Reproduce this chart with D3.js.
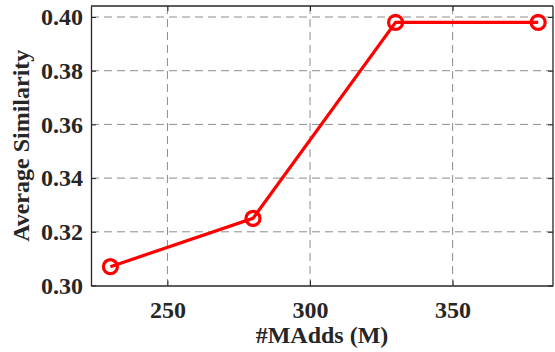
<!DOCTYPE html>
<html>
<head>
<meta charset="utf-8">
<script src="https://cdn.jsdelivr.net/npm/d3@7"></script>
<style>
  body { margin: 0; background: #fff; }
  text { font-family: "Liberation Serif", "Times New Roman", serif; font-weight: bold; fill: #262626; }
</style>
</head>
<body>
<svg id="chart" width="555" height="352"></svg>
<script>
// Data
var madds = [230, 280, 330, 380];
var similarity = [0.307, 0.325, 0.398, 0.398];
var xTicks = [250, 300, 350];
var yTicks = [0.30, 0.32, 0.34, 0.36, 0.38, 0.40];

var svg = d3.select("#chart");
var box = { left: 91, top: 6, right: 553, bottom: 285.5 };

var x = d3.scaleLinear().domain([223.2, 385.2]).range([box.left, box.right]);
var y = d3.scaleLinear().domain([0.30, 0.4041]).range([box.bottom, box.top]);

// Grid lines
svg.append("g").selectAll("line").data(xTicks).enter().append("line")
    .attr("x1", function (d) { return x(d); }).attr("x2", function (d) { return x(d); })
    .attr("y1", box.top).attr("y2", box.bottom)
    .attr("stroke", "#8c8c8c").attr("stroke-width", 1).attr("stroke-dasharray", "8,5");
svg.append("g").selectAll("line").data(yTicks.slice(1)).enter().append("line")
    .attr("x1", box.left).attr("x2", box.right)
    .attr("y1", function (d) { return y(d); }).attr("y2", function (d) { return y(d); })
    .attr("stroke", "#8c8c8c").attr("stroke-width", 1).attr("stroke-dasharray", "8,5");

// Axes (ticks inward)
var fmt = d3.format(".2f");
var axB = svg.append("g").attr("transform", "translate(0," + box.bottom + ")")
    .call(d3.axisBottom(x).tickValues(xTicks).tickSizeInner(-5).tickSizeOuter(0).tickPadding(15));
var axL = svg.append("g").attr("transform", "translate(" + box.left + ",0)")
    .call(d3.axisLeft(y).tickValues(yTicks).tickFormat(fmt).tickSizeInner(-5).tickSizeOuter(0).tickPadding(8));
var axT = svg.append("g").attr("transform", "translate(0," + box.top + ")")
    .call(d3.axisTop(x).tickValues(xTicks).tickSizeInner(-5).tickSizeOuter(0).tickFormat(""));
var axR = svg.append("g").attr("transform", "translate(" + box.right + ",0)")
    .call(d3.axisRight(y).tickValues(yTicks).tickSizeInner(-5).tickSizeOuter(0).tickFormat(""));

[axB, axL, axT, axR].forEach(function (g) {
    g.select(".domain").attr("stroke", "#262626").attr("stroke-width", 1.3);
    g.selectAll(".tick line").attr("stroke", "#262626");
    g.selectAll(".tick text").style("font-size", "24px")
        .style("font-family", "'Liberation Serif', serif").style("font-weight", "bold").attr("fill", "#262626");
});
axT.select(".domain").attr("d", "M" + box.left + ",0H" + box.right);
axR.select(".domain").attr("d", "M0," + box.top + "V" + box.bottom);

// Line
var line = d3.line()
    .x(function (d, i) { return x(madds[i]); })
    .y(function (d) { return y(d); });
svg.append("path").datum(similarity)
    .attr("d", line).attr("fill", "none")
    .attr("stroke", "#ff0000").attr("stroke-width", 3.2);

svg.append("g").selectAll("circle").data(similarity).enter().append("circle")
    .attr("cx", function (d, i) { return x(madds[i]); })
    .attr("cy", function (d) { return y(d); })
    .attr("r", 7).attr("fill", "none")
    .attr("stroke", "#ff0000").attr("stroke-width", 3.2);

// Axis titles
svg.append("text").attr("x", (box.left + box.right) / 2).attr("y", 343)
    .attr("text-anchor", "middle").style("font-size", "24px").text("#MAdds (M)");
svg.append("text")
    .attr("transform", "translate(29," + ((box.top + box.bottom) / 2) + ") rotate(-90)")
    .attr("text-anchor", "middle").style("font-size", "24px").text("Average Similarity");
</script>
</body>
</html>
